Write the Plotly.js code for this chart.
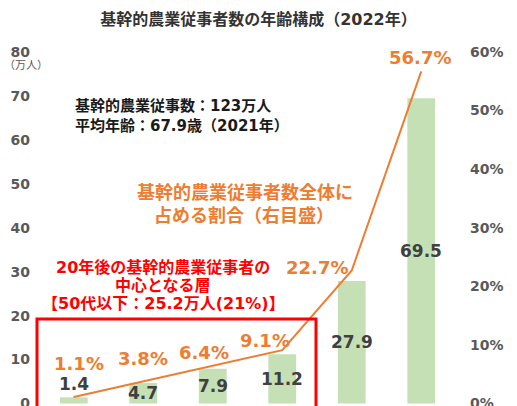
<!DOCTYPE html>
<html>
<head>
<meta charset="utf-8">
<script src="https://cdn.plot.ly/plotly-3.0.1.min.js"></script>
<style>html,body{margin:0;padding:0;background:#fff;}#chart{width:517px;height:406px;}</style>
</head>
<body>
<div id="chart"></div>
<script>
// ---- data ----
const categories = ['20代以下', '30代', '40代', '50代', '60代', '70歳以上'];
const workers = [1.4, 4.7, 7.9, 11.2, 27.9, 69.5];      // 万人 (left axis)
const shares = [1.1, 3.8, 6.4, 9.1, 22.7, 56.7];        // % (right axis)
const leftTicks = [0, 10, 20, 30, 40, 50, 60, 70, 80];
const rightTicks = [0, 10, 20, 30, 40, 50, 60];

// ---- styling / placement ----
const FONT = "'DejaVu Sans', 'Noto Sans CJK JP', sans-serif";
const ORANGE = '#ED7D31';
const W = 517, H = 406, ML = 39, MR = 61, MT = 52, MB = 0;
const PW = W - ML - MR, PH = H - MT - MB;
const px = x => (x - ML) / PW;
const py = y => (H - MB - y) / PH;
const shareOffsets = [[5, 34], [0, 23], [-9, 14], [-17, 10], [-35, 3], [-1, 14]];

const traces = [
  {
    type: 'bar', x: categories, y: workers, yaxis: 'y',
    marker: {color: '#C5E0B4'}, hoverinfo: 'skip'
  },
  {
    type: 'scatter', mode: 'lines', x: categories, y: shares, yaxis: 'y2',
    line: {color: ORANGE, width: 2}, hoverinfo: 'skip'
  }
];

const annotations = [];
// bar value labels
workers.forEach((v, i) => {
  if (i === 0) {
    annotations.push({x: categories[i], y: v, xref: 'x', yref: 'y', text: String(v),
      showarrow: true, arrowhead: 0, arrowwidth: 0.7, arrowcolor: '#A6A6A6', ax: 0, ay: -13, standoff: 0,
      font: {family: FONT, size: 17, color: '#404040', weight: 'bold'}});
  } else {
    annotations.push({x: categories[i], y: v / 2, xref: 'x', yref: 'y', text: String(v),
      showarrow: false, font: {family: FONT, size: 17, color: '#404040', weight: 'bold'}});
  }
});
// share labels
shares.forEach((v, i) => {
  annotations.push({x: categories[i], y: v, xref: 'x', yref: 'y2', text: v.toFixed(1) + '%',
    showarrow: false, xshift: shareOffsets[i][0], yshift: shareOffsets[i][1],
    font: {family: FONT, size: 18, color: ORANGE, weight: 'bold'}});
});
function txt(t, x, y, size, color, anchor, weight) {
  annotations.push({text: t, x: px(x), y: py(y), xref: 'paper', yref: 'paper',
    xanchor: anchor, yanchor: 'middle', showarrow: false,
    font: {family: FONT, size: size, color: color, weight: weight || 'bold'}});
}
txt('（万人）', 26, 66, 11, '#595959', 'center', 'normal');
txt('基幹的農業従事数：123万人', 73, 106, 15, '#1a1a1a', 'left');
txt('平均年齢：67.9歳（2021年）', 73, 126, 15, '#1a1a1a', 'left');
txt('基幹的農業従事者数全体に', 245, 192, 18, ORANGE, 'center');
txt('占める割合（右目盛）', 244, 215, 18, ORANGE, 'center');
txt('20年後の基幹的農業従事者の', 163, 267, 16, '#FF0000', 'center');
txt('中心となる層', 163, 285, 16, '#FF0000', 'center');
txt('【50代以下：25.2万人(21%)】', 163, 303, 16, '#FF0000', 'center');

const layout = {
  width: W, height: H,
  margin: {l: ML, r: MR, t: MT, b: MB, pad: 0},
  paper_bgcolor: '#fff', plot_bgcolor: '#fff',
  showlegend: false, bargap: 0.6,
  font: {family: FONT},
  title: {text: '基幹的農業従事者数の年齢構成（2022年）', x: 0.5, xref: 'container',
    y: 1 - 19 / H, yref: 'container', xanchor: 'center', yanchor: 'middle',
    font: {family: FONT, size: 16, color: '#333333', weight: 'bold'}},
  xaxis: {type: 'category', range: [-0.5, 5.5], showticklabels: false, showgrid: false,
    zeroline: false, showline: false, ticks: '', fixedrange: true},
  yaxis: {range: [-0.57, 80], tickvals: leftTicks, ticktext: leftTicks.map(String),
    showgrid: false, zeroline: false, showline: false, ticks: '', ticklabelstandoff: 8,
    ticklabeloverflow: 'allow',
    tickfont: {family: FONT, size: 14, color: '#595959', weight: 'bold'}, fixedrange: true},
  yaxis2: {overlaying: 'y', side: 'right', range: [-0.4275, 60], tickvals: rightTicks,
    ticktext: rightTicks.map(v => v + '%'), showgrid: false, zeroline: false, showline: false,
    ticks: '', ticklabelstandoff: 13, ticklabeloverflow: 'allow',
    tickfont: {family: FONT, size: 14, color: '#595959', weight: 'bold'}, fixedrange: true},
  shapes: [{type: 'rect', xref: 'paper', yref: 'paper', x0: px(37), x1: px(316), y0: -0.1, y1: py(319),
    line: {color: '#FF0000', width: 3}, fillcolor: 'rgba(0,0,0,0)', layer: 'above'}],
  annotations: annotations
};

Plotly.newPlot('chart', traces, layout, {displayModeBar: false, staticPlot: true});
</script>
</body>
</html>
